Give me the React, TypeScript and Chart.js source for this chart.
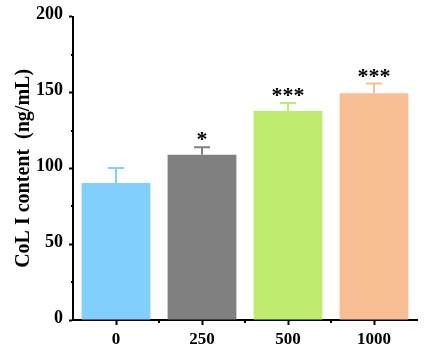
import React, { useEffect, useRef } from 'react';
import { Chart, registerables } from 'chart.js';

Chart.register(...registerables);

const categories = ['0', '250', '500', '1000'];
const meanValues = [90.3, 109, 137.9, 149.5];
const errorValues = [10, 5, 5.3, 6.5];
const significance = ['', '*', '***', '***'];
const barColors = ['#82CFFD', '#808080', '#BEEC6E', '#F8BF95'];
const yTickValues = [0, 50, 100, 150, 200];
const yMinorValues = [25, 75, 125, 175];
const yTitle = 'CoL I content  (ng/mL)';

const FONT = '"Liberation Serif", "Times New Roman", serif';

const extrasPlugin = {
  id: 'extras',
  afterDatasetsDraw(chart: any) {
    const ctx = chart.ctx;
    const meta = chart.getDatasetMeta(0);
    const ys = chart.scales.y;
    const xs = chart.scales.x;
    const area = chart.chartArea;
    ctx.save();
    meta.data.forEach((bar: any, i: number) => {
      const x = bar.x;
      const top = ys.getPixelForValue(meanValues[i]);
      const up = ys.getPixelForValue(meanValues[i] + errorValues[i]);
      ctx.strokeStyle = barColors[i];
      ctx.lineWidth = 2;
      ctx.beginPath();
      ctx.moveTo(x, top);
      ctx.lineTo(x, up);
      ctx.moveTo(x - 8, up);
      ctx.lineTo(x + 8, up);
      ctx.stroke();
      if (significance[i]) {
        ctx.fillStyle = '#000';
        ctx.font = `bold 22px ${FONT}`;
        ctx.textAlign = 'center';
        ctx.textBaseline = 'alphabetic';
        ctx.fillText(significance[i], x, up - 1);
      }
    });
    ctx.strokeStyle = '#000';
    ctx.lineWidth = 2;
    ctx.beginPath();
    yMinorValues.forEach((v) => {
      const py = Math.round(ys.getPixelForValue(v));
      ctx.moveTo(area.left - 2, py);
      ctx.lineTo(area.left, py);
    });
    for (let i = 0; i < categories.length - 1; i++) {
      const px = Math.round((xs.getPixelForValue(i) + xs.getPixelForValue(i + 1)) / 2);
      ctx.moveTo(px, area.bottom);
      ctx.lineTo(px, area.bottom + 3);
    }
    ctx.stroke();
    ctx.restore();
  },
};

export default function App() {
  const ref = useRef<HTMLCanvasElement | null>(null);
  useEffect(() => {
    if (!ref.current) return;
    const chart = new Chart(ref.current, {
      type: 'bar',
      data: {
        labels: categories,
        datasets: [
          {
            data: meanValues,
            backgroundColor: barColors,
            borderWidth: 0,
            barPercentage: 0.8,
            categoryPercentage: 1,
          },
        ],
      },
      options: {
        animation: false,
        responsive: true,
        maintainAspectRatio: false,
        layout: { padding: { left: 0, right: 12, top: 16, bottom: 0 } },
        plugins: {
          legend: { display: false },
          tooltip: { enabled: false },
        },
        scales: {
          x: {
            offset: true,
            grid: {
              display: true,
              drawOnChartArea: false,
              drawTicks: true,
              tickLength: 5,
              tickWidth: 2,
              tickColor: '#000',
              offset: false,
            },
            border: { display: true, color: '#000', width: 2 },
            ticks: {
              color: '#000',
              font: { family: FONT, size: 17, weight: 'bold' },
              padding: 4,
            },
            afterFit(scale: any) {
              scale.height = 42;
            },
          },
          y: {
            min: 0,
            max: 200,
            afterBuildTicks(scale: any) {
              scale.ticks = yTickValues.map((v) => ({ value: v }));
            },
            grid: {
              display: true,
              drawOnChartArea: false,
              drawTicks: true,
              tickLength: 4,
              tickWidth: 2,
              tickColor: '#000',
            },
            border: { display: true, color: '#000', width: 2 },
            ticks: {
              color: '#000',
              font: { family: FONT, size: 18, weight: 'bold' },
              padding: 6,
              labelOffset: -2,
            },
            title: {
              display: true,
              text: yTitle,
              color: '#000',
              font: { family: FONT, size: 20, weight: 'bold' },
              padding: { top: 12, bottom: 0 },
            },
            afterFit(scale: any) {
              scale.width = 73;
            },
          },
        },
      },
      plugins: [extrasPlugin],
    });
    return () => chart.destroy();
  }, []);
  return (
    <div style={{ position: 'fixed', left: 0, top: 0, width: 429, height: 362, background: '#fff' }}>
      <canvas ref={ref} />
    </div>
  );
}
